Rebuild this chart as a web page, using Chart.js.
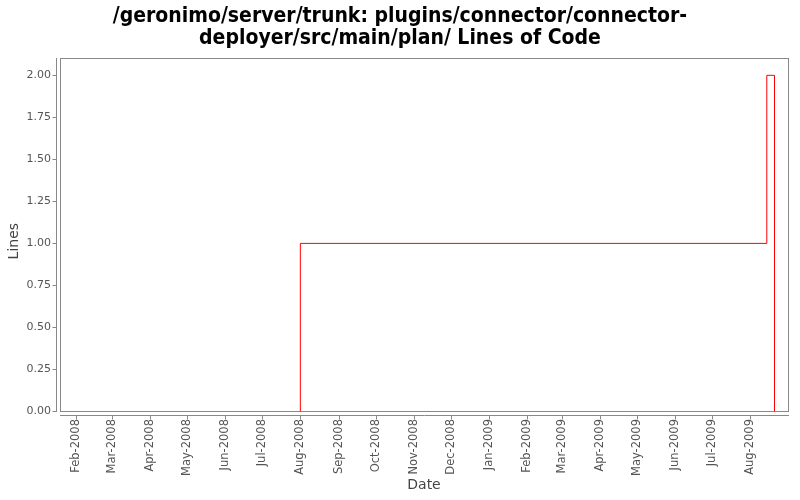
<!DOCTYPE html>
<html><head><meta charset="utf-8">
<script src="https://cdn.jsdelivr.net/npm/chart.js@4"></script>
<style>html,body{margin:0;padding:0;background:#fff}</style>
</head><body>
<canvas id="c" width="800" height="500"></canvas>
<script>
const titleLines = ['/geronimo/server/trunk: plugins/connector/connector-', 'deployer/src/main/plan/ Lines of Code'];
const monthLabels = ['Feb-2008','Mar-2008','Apr-2008','May-2008','Jun-2008','Jul-2008','Aug-2008','Sep-2008','Oct-2008','Nov-2008','Dec-2008','Jan-2009','Feb-2009','Mar-2009','Apr-2009','May-2009','Jun-2009','Jul-2009','Aug-2009'];
const monthStarts = ['2008-02-01','2008-03-01','2008-04-01','2008-05-01','2008-06-01','2008-07-01','2008-08-01','2008-09-01','2008-10-01','2008-11-01','2008-12-01','2009-01-01','2009-02-01','2009-03-01','2009-04-01','2009-05-01','2009-06-01','2009-07-01','2009-08-01'];
const yTicks = [0, 0.25, 0.5, 0.75, 1, 1.25, 1.5, 1.75, 2];
const pointDates = ['2008-07-31T12:00:00Z','2008-07-31T12:00:00Z','2009-08-14T06:00:00Z','2009-08-20T12:00:00Z'];
const pointValues = [0, 1, 2, 0];
const xMin = '2008-01-18T18:30:00Z';
const xMax = '2009-08-31T20:40:00Z';

const axisColor = '#888';
const framePlugin = {
  id: 'frame',
  beforeDatasetsDraw(chart) {
    const {ctx, chartArea: a} = chart;
    ctx.save();
    ctx.strokeStyle = axisColor; ctx.lineWidth = 1;
    ctx.strokeRect(a.left + 0.5, a.top + 0.5, a.right - a.left, a.bottom - a.top);
    ctx.restore();
    ctx.save();
    ctx.translate(0.5, 0.5);
  },
  afterDatasetsDraw(chart) {
    chart.ctx.restore();
  },
  afterDraw(chart) {
    const {ctx, chartArea: a, scales: {x, y}} = chart;
    ctx.save();
    ctx.strokeStyle = axisColor; ctx.lineWidth = 1;
    ctx.beginPath();
    const ax = a.left - 3.5;
    ctx.moveTo(ax, a.top); ctx.lineTo(ax, a.bottom + 1);
    y.ticks.forEach(t => { const p = Math.round(y.getPixelForValue(t.value)) + 0.5; ctx.moveTo(ax - 4, p); ctx.lineTo(ax, p); });
    const ay = a.bottom + 4.5;
    ctx.moveTo(a.left, ay); ctx.lineTo(a.right + 1, ay);
    x.ticks.forEach(t => { const p = Math.round(x.getPixelForValue(t.value)) + 0.5; ctx.moveTo(p, ay); ctx.lineTo(p, ay + 4); });
    ctx.stroke();
    ctx.restore();
  }
};

Chart.defaults.font.family = 'DejaVu Sans';
new Chart(document.getElementById('c'), {
  type: 'line',
  data: {
    datasets: [{
      data: pointDates.map((d, i) => ({x: Date.parse(d), y: pointValues[i]})),
      borderColor: '#ff0000',
      borderWidth: 1,
      pointRadius: 0,
      stepped: true,
      fill: false
    }]
  },
  options: {
    responsive: false,
    animation: false,
    devicePixelRatio: 1,
    layout: {padding: 0},
    plugins: {
      legend: {display: false},
      tooltip: {enabled: false},
      title: {
        display: true,
        text: titleLines,
        color: '#000',
        font: {family: 'DejaVu Sans Condensed', size: 21, weight: 'bold', lineHeight: '22px'},
        padding: {top: 6, bottom: 8}
      }
    },
    scales: {
      x: {
        type: 'linear',
        min: Date.parse(xMin),
        max: Date.parse(xMax),
        afterFit(s) { s.height = 89; },
        afterBuildTicks(s) { s.ticks = monthStarts.map(d => ({value: Date.parse(d)})); },
        grid: {display: false, drawTicks: false},
        border: {display: false},
        ticks: {
          autoSkip: false, maxRotation: 90, minRotation: 90, padding: 8,
          color: '#555', font: {size: 11.5},
          callback: (v, i) => monthLabels[i]
        },
        title: {display: true, text: 'Date', color: '#444', font: {size: 14}, padding: {top: 4, bottom: 6.6}}
      },
      y: {
        min: 0,
        max: 2.1,
        afterFit(s) { s.width = 60; },
        afterBuildTicks(s) { s.ticks = yTicks.map(v => ({value: v})); },
        grid: {display: false, drawTicks: false},
        border: {display: false},
        ticks: {padding: 9, color: '#555', font: {size: 11}, callback: v => v.toFixed(2)},
        title: {display: true, text: 'Lines   ', color: '#444', font: {size: 14}, padding: {top: 5.6, bottom: 4}}
      },
      spacer: {
        type: 'linear',
        position: 'right',
        afterFit(s) { s.width = 12; },
        grid: {display: false, drawTicks: false},
        border: {display: false},
        ticks: {display: false}
      }
    }
  },
  plugins: [framePlugin]
});
</script>
</body></html>
